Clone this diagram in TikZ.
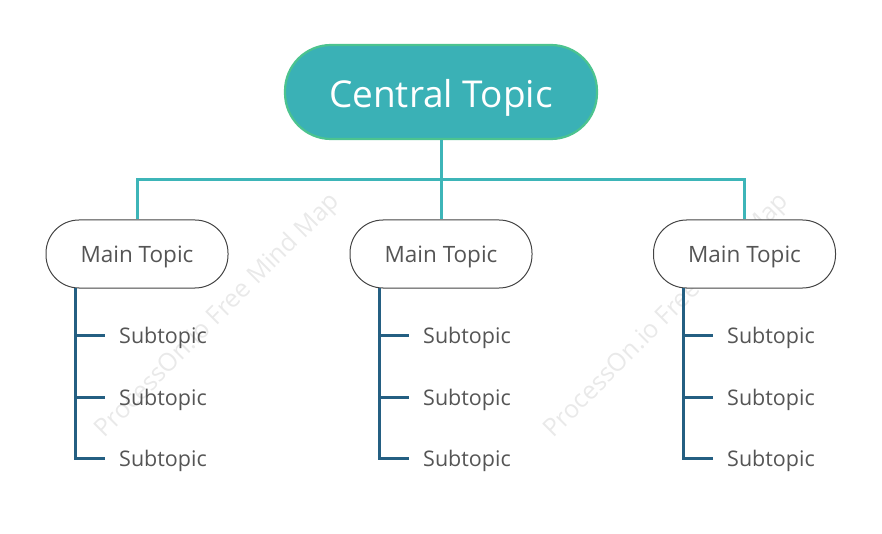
\documentclass[tikz,border=0pt]{standalone}
\usepackage{fontspec}
\setmainfont{Open Sans}
\definecolor{teal1}{HTML}{3AB1B6}
\definecolor{tealedge}{HTML}{4CC38F}
\definecolor{tealline}{HTML}{3DB5B8}
\definecolor{subline}{HTML}{245F82}
\definecolor{txtgray}{HTML}{555555}
\definecolor{boxedge}{HTML}{444444}
\definecolor{wm}{HTML}{E9E9E9}
\begin{document}
\begin{tikzpicture}[x=1pt,y=-1pt,
  central/.style={draw=tealedge, line width=2.2pt, fill=teal1, rounded corners=46pt,
    minimum width=312pt, minimum height=94pt, inner sep=0pt},
  centraltxt/.style={inner sep=0pt, text=white, font=\fontsize{37}{40}\selectfont},
  mainbox/.style={draw=boxedge, line width=1pt, fill=white, rounded corners=33pt,
    minimum width=182pt, minimum height=68pt, inner sep=0pt},
  maintxt/.style={inner sep=0pt, text=txtgray, font=\fontsize{22.5}{26}\selectfont},
  subtxt/.style={anchor=west, inner sep=0pt, text=txtgray, font=\fontsize{21.5}{24}\selectfont},
  mainlink/.style={draw=tealline, line width=3pt},
  sublink/.style={draw=subline, line width=3pt},
  watermark/.style={text=wm, rotate=45, font=\fontsize{25}{28}\selectfont}]
\useasboundingbox (0,0) rectangle (882,534);

\node[watermark] (w1) at (218,316) {ProcessOn.io Free Mind Map};
\node[watermark] (w2) at (667,316) {ProcessOn.io Free Mind Map};

\node[central] (c) at (441,92) {};
\node[centraltxt] (ct) at (441,98) {Central Topic};

\foreach \i/\x in {1/137,2/441,3/744.5} {
  \node[mainbox] (m\i) at (\x,254) {};
  \node[maintxt] (mt\i) at (\x,257) {Main Topic};
}

\coordinate (j) at (441,180);
\draw[mainlink] (c.south) -- (j);
\draw[mainlink] (m1.north) -- (m1.north |- j) -- (m3.north |- j) -- (m3.north);
\draw[mainlink] (j) -- (m2.north);

\foreach \i/\x in {1/75,2/379,3/683} {
  \coordinate (b\i) at (\x,288);
  \node[subtxt] (s\i a) at (\x+44,338) {Subtopic};
  \node[subtxt] (s\i b) at (\x+44,400) {Subtopic};
  \node[subtxt] (s\i c) at (\x+44,461) {Subtopic};
  \coordinate (t\i a) at (\x+30,335);
  \coordinate (t\i b) at (\x+30,397);
  \coordinate (t\i c) at (\x+30,458);
  \draw[sublink] (b\i) -- (b\i |- t\i c) -- (t\i c);
  \draw[sublink] (b\i |- t\i a) -- (t\i a);
  \draw[sublink] (b\i |- t\i b) -- (t\i b);
}
\end{tikzpicture}
\end{document}
